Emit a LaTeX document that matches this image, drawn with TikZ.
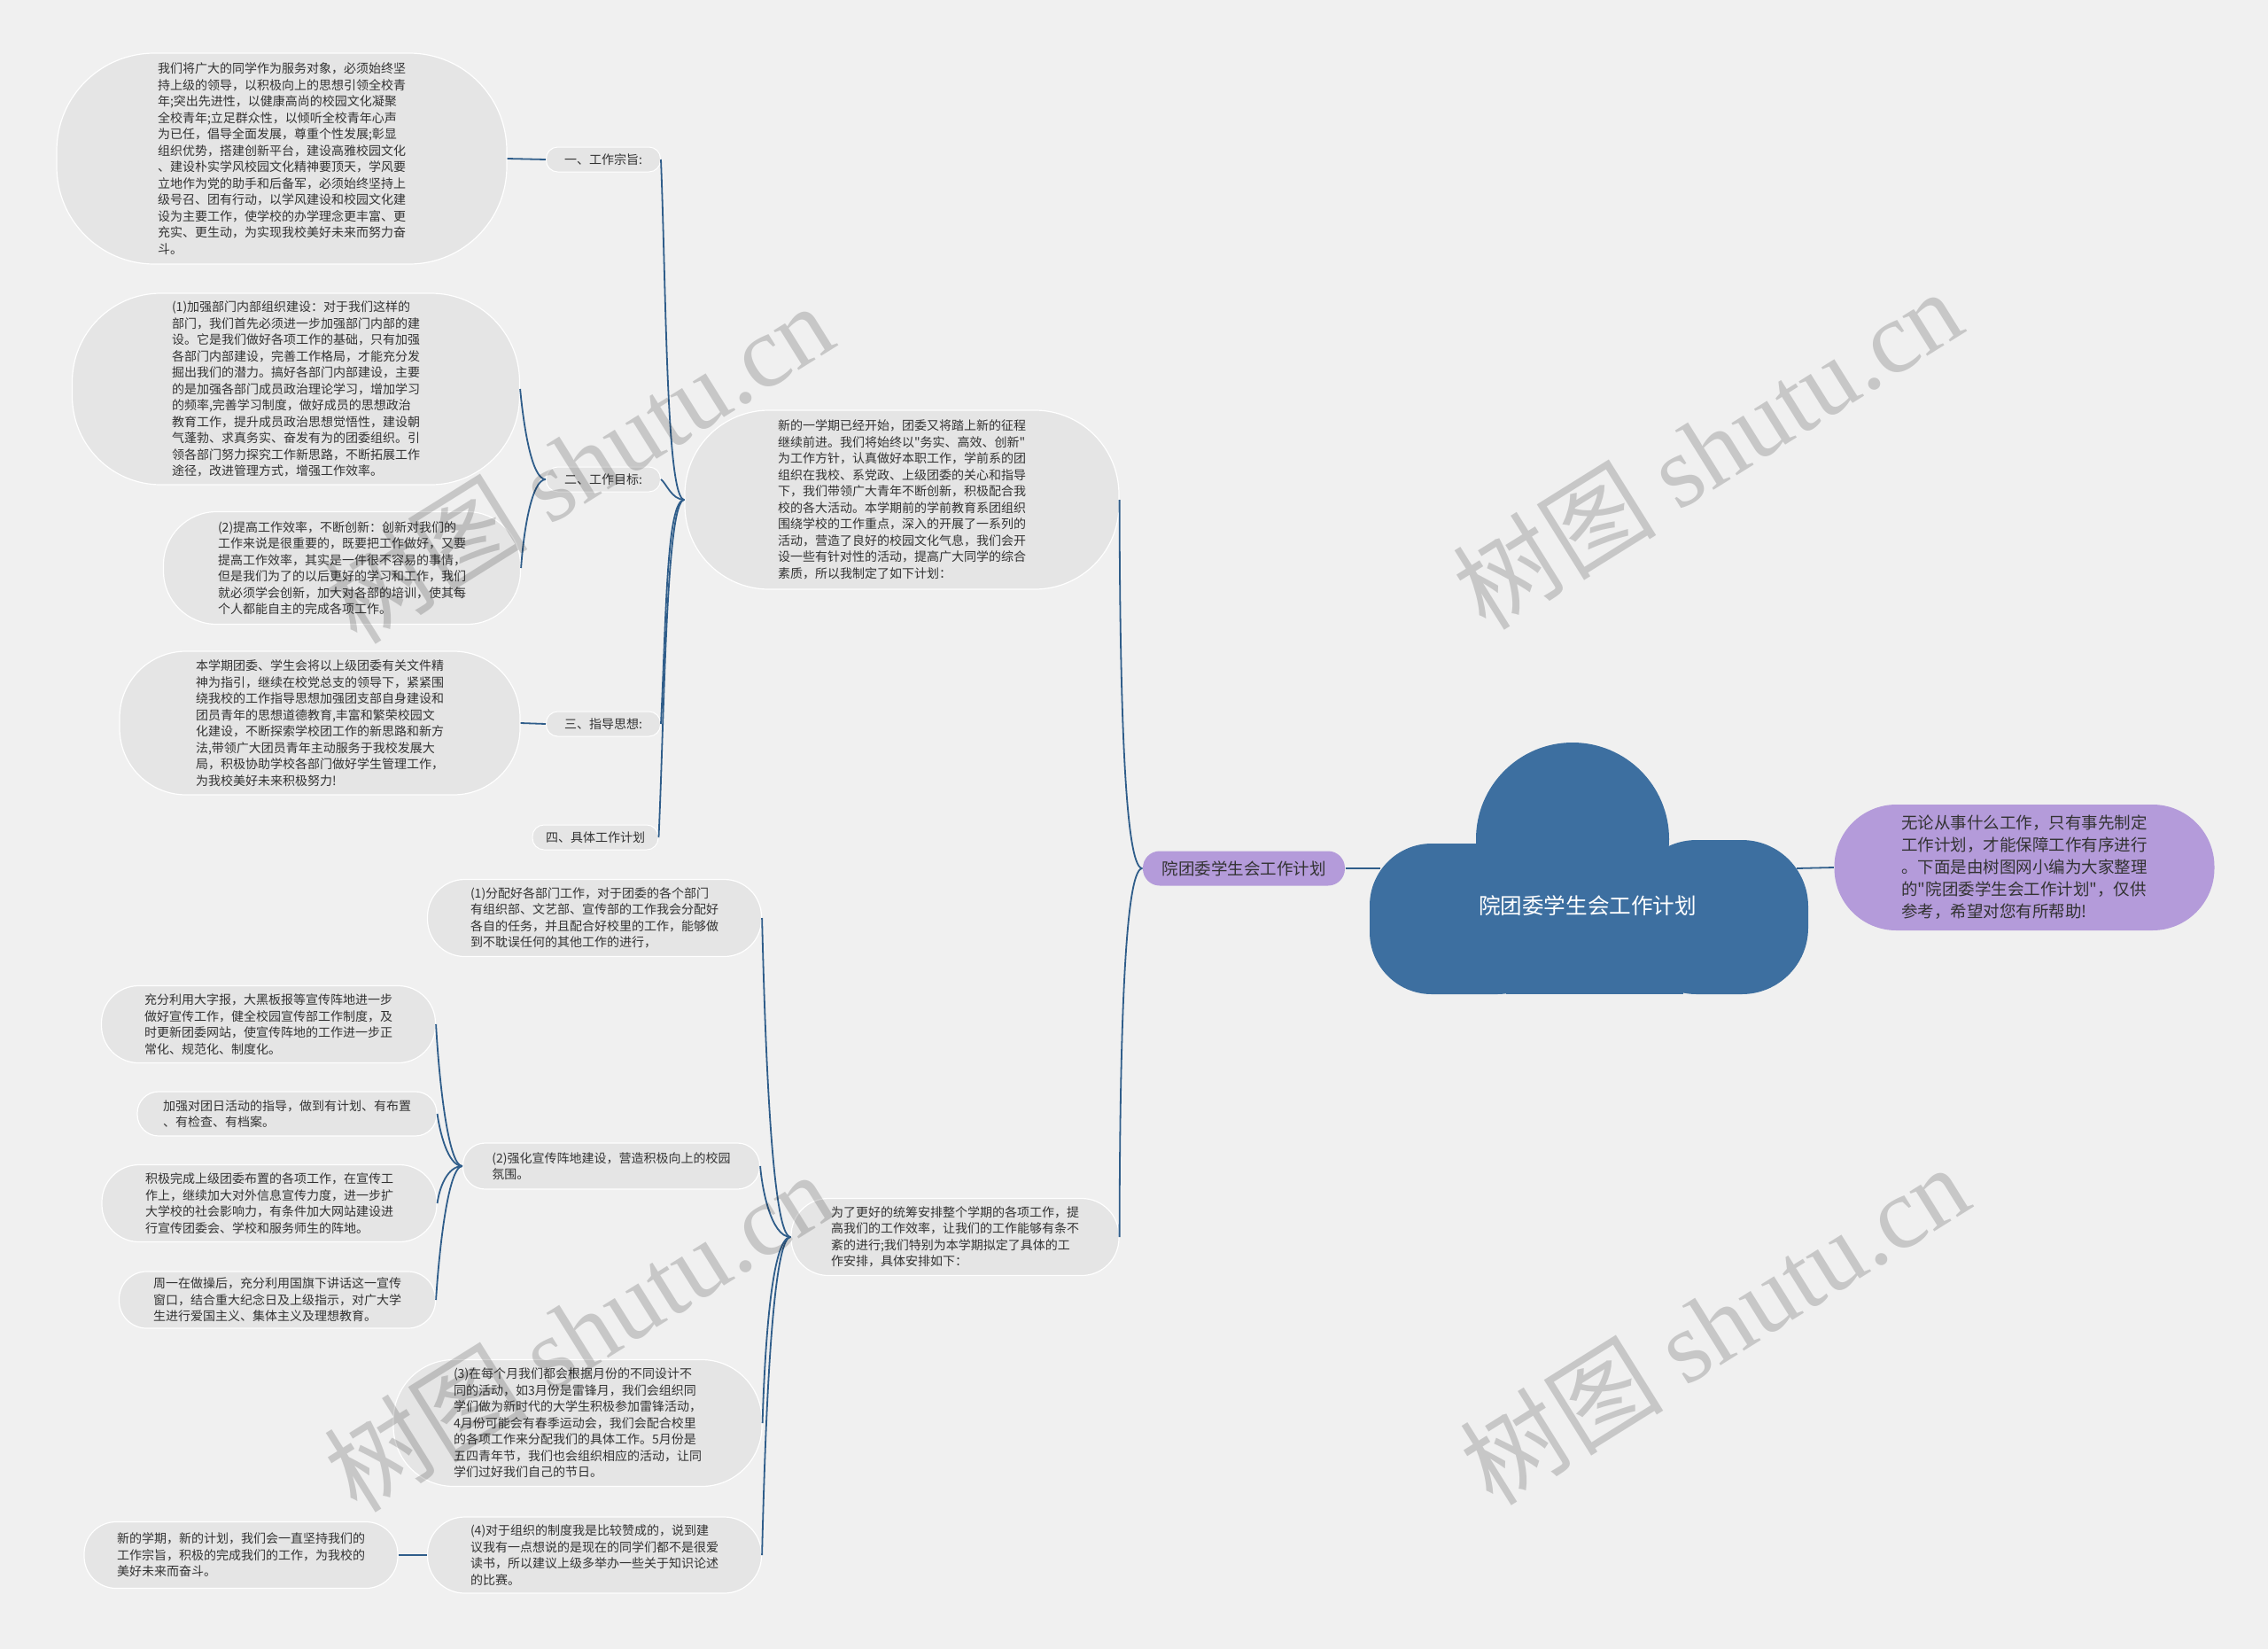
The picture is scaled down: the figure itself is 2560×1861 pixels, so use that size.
\documentclass[tikz,border=0pt]{standalone}
\usepackage{fontspec}
\setmainfont{Noto Sans CJK SC}
\newfontfamily\qf{Noto Sans CJK SC}
\newfontfamily\wmlatin{Liberation Serif}
\definecolor{bgc}{RGB}{240,240,240}
\definecolor{nodefill}{RGB}{229,229,229}
\definecolor{txt}{RGB}{51,51,51}
\definecolor{linec}{RGB}{47,93,138}
\definecolor{cloudc}{RGB}{61,111,160}
\definecolor{lilac}{RGB}{180,155,218}
\begin{document}
\begin{tikzpicture}[x=1pt,y=-1pt,
  para/.style={draw=white, line width=1.2pt, fill=nodefill, text=txt, align=left, inner sep=0pt, font=\qf\fontsize{14pt}{18.5pt}\selectfont},
  lab/.style={draw=white, line width=1pt, fill=nodefill, text=txt, inner sep=0pt, font=\qf\fontsize{14pt}{18pt}\selectfont, minimum height=28pt, rounded corners=13pt},
  conn/.style={draw=linec, line width=1.8pt},
  wm/.style={text=black, text opacity=0.17, font=\fontsize{115pt}{120pt}\selectfont, rotate=32, inner sep=0pt}]
\fill[bgc] (0,0) rectangle (2560,1861);
\useasboundingbox (0,0) rectangle (2560,1861);

% cloud
\fill[cloudc] (1775,947) circle[radius=109pt];
\fill[cloudc, rounded corners=70pt] (1546,952) rectangle (1760,1122);
\fill[cloudc, rounded corners=75pt] (1840,948) rectangle (2041,1122);
\fill[cloudc] (1700,960) rectangle (1900,1122);
\node[text=white, inner sep=0pt, font=\qf\fontsize{24.6pt}{30pt}\selectfont] (cloud) at (1792,1022) {院团委学生会工作计划};
\coordinate (cloudL) at (1558,980);
\coordinate (cloudR) at (2028,980);

% right pill
\node[para, draw=none, fill=lilac, font=\qf\fontsize{18.5pt}{25pt}\selectfont, minimum width=429pt, minimum height=142pt, rounded corners=70pt] (RP) at (2285,979) {无论从事什么工作，只有事先制定\\工作计划，才能保障工作有序进行\\。下面是由树图网小编为大家整理\\的"院团委学生会工作计划"，仅供\\参考，希望对您有所帮助!};

% small pill
\node[para, draw=none, fill=lilac, font=\qf\fontsize{18.5pt}{22pt}\selectfont, minimum width=228pt, minimum height=39pt, rounded corners=19pt] (SP) at (1404,980) {院团委学生会工作计划};

% intro
\node[para, minimum width=490pt, minimum height=202pt, rounded corners=95pt] (intro) at (1018,564) {新的一学期已经开始，团委又将踏上新的征程\\继续前进。我们将始终以"务实、高效、创新"\\为工作方针，认真做好本职工作，学前系的团\\组织在我校、系党政、上级团委的关心和指导\\下，我们带领广大青年不断创新，积极配合我\\校的各大活动。本学期前的学前教育系团组织\\围绕学校的工作重点，深入的开展了一系列的\\活动，营造了良好的校园文化气息，我们会开\\设一些有针对性的活动，提高广大同学的综合\\素质，所以我制定了如下计划：};

% labels
\node[lab, minimum width=129pt] (L1) at (681,180) {一、工作宗旨:};
\node[lab, minimum width=129pt] (L2) at (681,541) {二、工作目标:};
\node[lab, minimum width=129pt] (L3) at (681,817) {三、指导思想:};
\node[lab, minimum width=142pt] (L4) at (672,945) {四、具体工作计划};

\node[para, minimum width=508pt, minimum height=238pt, rounded corners=110pt] (A) at (318,179) {我们将广大的同学作为服务对象，必须始终坚\\持上级的领导，以积极向上的思想引领全校青\\年;突出先进性，以健康高尚的校园文化凝聚\\全校青年;立足群众性，以倾听全校青年心声\\为已任，倡导全面发展，尊重个性发展;彰显\\组织优势，搭建创新平台，建设高雅校园文化\\、建设朴实学风校园文化精神要顶天，学风要\\立地作为党的助手和后备军，必须始终坚持上\\级号召、团有行动，以学风建设和校园文化建\\设为主要工作，使学校的办学理念更丰富、更\\充实、更生动，为实现我校美好未来而努力奋\\斗。};

\node[para, minimum width=505pt, minimum height=216pt, rounded corners=100pt] (B1) at (334,439) {(1)加强部门内部组织建设：对于我们这样的\\部门，我们首先必须进一步加强部门内部的建\\设。它是我们做好各项工作的基础，只有加强\\各部门内部建设，完善工作格局，才能充分发\\掘出我们的潜力。搞好各部门内部建设，主要\\的是加强各部门成员政治理论学习，增加学习\\的频率,完善学习制度，做好成员的思想政治\\教育工作，提升成员政治思想觉悟性，建设朝\\气蓬勃、求真务实、奋发有为的团委组织。引\\领各部门努力探究工作新思路，不断拓展工作\\途径，改进管理方式，增强工作效率。};

\node[para, minimum width=403pt, minimum height=127pt, rounded corners=60pt] (B2) at (386,641) {(2)提高工作效率，不断创新：创新对我们的\\工作来说是很重要的，既要把工作做好，又要\\提高工作效率，其实是一件很不容易的事情，\\但是我们为了的以后更好的学习和工作，我们\\就必须学会创新，加大对各部的培训，使其每\\个人都能自主的完成各项工作。};

\node[para, minimum width=452pt, minimum height=162pt, rounded corners=75pt] (C) at (361,816) {本学期团委、学生会将以上级团委有关文件精\\神为指引，继续在校党总支的领导下，紧紧围\\绕我校的工作指导思想加强团支部自身建设和\\团员青年的思想道德教育,丰富和繁荣校园文\\化建设，不断探索学校团工作的新思路和新方\\法,带领广大团员青年主动服务于我校发展大\\局，积极协助学校各部门做好学生管理工作，\\为我校美好未来积极努力!};

% plan branch
\node[para, minimum width=370pt, minimum height=87pt, rounded corners=42pt] (plan) at (1078,1396) {为了更好的统筹安排整个学期的各项工作，提\\高我们的工作效率，让我们的工作能够有条不\\紊的进行;我们特别为本学期拟定了具体的工\\作安排，具体安排如下：};

\node[para, minimum width=377pt, minimum height=87pt, rounded corners=42pt] (P1) at (671,1036) {(1)分配好各部门工作，对于团委的各个部门\\有组织部、文艺部、宣传部的工作我会分配好\\各自的任务，并且配合好校里的工作，能够做\\到不耽误任何的其他工作的进行，};

\node[para, minimum width=335pt, minimum height=52pt, rounded corners=25pt] (P2) at (690,1316) {(2)强化宣传阵地建设，营造积极向上的校园\\氛围。};

\node[para, minimum width=416pt, minimum height=143pt, rounded corners=68pt] (P3) at (652,1606) {(3)在每个月我们都会根据月份的不同设计不\\同的活动，如3月份是雷锋月，我们会组织同\\学们做为新时代的大学生积极参加雷锋活动，\\4月份可能会有春季运动会，我们会配合校里\\的各项工作来分配我们的具体工作。5月份是\\五四青年节，我们也会组织相应的活动，让同\\学们过好我们自己的节日。};

\node[para, minimum width=377pt, minimum height=86pt, rounded corners=42pt] (P4) at (671,1755) {(4)对于组织的制度我是比较赞成的，说到建\\议我有一点想说的是现在的同学们都不是很爱\\读书，所以建议上级多举办一些关于知识论述\\的比赛。};

\node[para, minimum width=377pt, minimum height=87pt, rounded corners=42pt] (Q1) at (303,1156) {充分利用大字报，大黑板报等宣传阵地进一步\\做好宣传工作，健全校园宣传部工作制度，及\\时更新团委网站，使宣传阵地的工作进一步正\\常化、规范化、制度化。};

\node[para, minimum width=338pt, minimum height=50pt, rounded corners=24pt] (Q2) at (324,1257) {加强对团日活动的指导，做到有计划、有布置\\、有检查、有档案。};

\node[para, minimum width=378pt, minimum height=87pt, rounded corners=42pt] (Q3) at (304,1358) {积极完成上级团委布置的各项工作，在宣传工\\作上，继续加大对外信息宣传力度，进一步扩\\大学校的社会影响力，有条件加大网站建设进\\行宣传团委会、学校和服务师生的阵地。};

\node[para, minimum width=357pt, minimum height=64pt, rounded corners=31pt] (Q4) at (313,1467) {周一在做操后，充分利用国旗下讲话这一宣传\\窗口，结合重大纪念日及上级指示，对广大学\\生进行爱国主义、集体主义及理想教育。};

\node[para, minimum width=354pt, minimum height=75pt, rounded corners=36pt] (R) at (272,1755) {新的学期，新的计划，我们会一直坚持我们的\\工作宗旨，积极的完成我们的工作，为我校的\\美好未来而奋斗。};

% connectors
\draw[conn] (cloudR) -- (RP.west);
\draw[conn] (SP.east) -- (cloudL);
\draw[conn] (SP.west) .. controls (1268,980) and (1264,760) .. (intro.east);
\draw[conn] (SP.west) .. controls (1268,980) and (1264,1200) .. (plan.east);

\draw[conn] (intro.west) .. controls (752,564) and (752,330) .. (L1.east);
\draw[conn] (intro.west) .. controls (758,564) and (752,545) .. (L2.east);
\draw[conn] (intro.west) .. controls (752,564) and (752,700) .. (L3.east);
\draw[conn] (intro.west) .. controls (752,564) and (750,800) .. (L4.east);

\draw[conn] (L1.west) -- (A.east);
\draw[conn] (L2.west) .. controls (600,541) and (591,480) .. (B1.east);
\draw[conn] (L2.west) .. controls (600,541) and (591,600) .. (B2.east);
\draw[conn] (L3.west) -- (C.east);

\draw[conn] (plan.west) .. controls (870,1396) and (863,1150) .. (P1.east);
\draw[conn] (plan.west) .. controls (870,1396) and (860,1340) .. (P2.east);
\draw[conn] (plan.west) .. controls (870,1396) and (863,1530) .. (P3.east);
\draw[conn] (plan.west) .. controls (870,1396) and (863,1640) .. (P4.east);

\draw[conn] (P2.west) .. controls (505,1316) and (495,1210) .. (Q1.east);
\draw[conn] (P2.west) .. controls (505,1316) and (496,1275) .. (Q2.east);
\draw[conn] (P2.west) .. controls (505,1316) and (496,1340) .. (Q3.east);
\draw[conn] (P2.west) .. controls (505,1316) and (495,1420) .. (Q4.east);

\draw[conn] (P4.west) -- (R.east);

% watermarks
\node[wm] (wm1) at (653,522) {树图 {\wmlatin shutu.cn}};
\node[wm] (wm2) at (1927,506) {树图 {\wmlatin shutu.cn}};
\node[wm] (wm3) at (653,1502) {树图 {\wmlatin shutu.cn}};
\node[wm] (wm4) at (1935,1494) {树图 {\wmlatin shutu.cn}};
\end{tikzpicture}
\end{document}
